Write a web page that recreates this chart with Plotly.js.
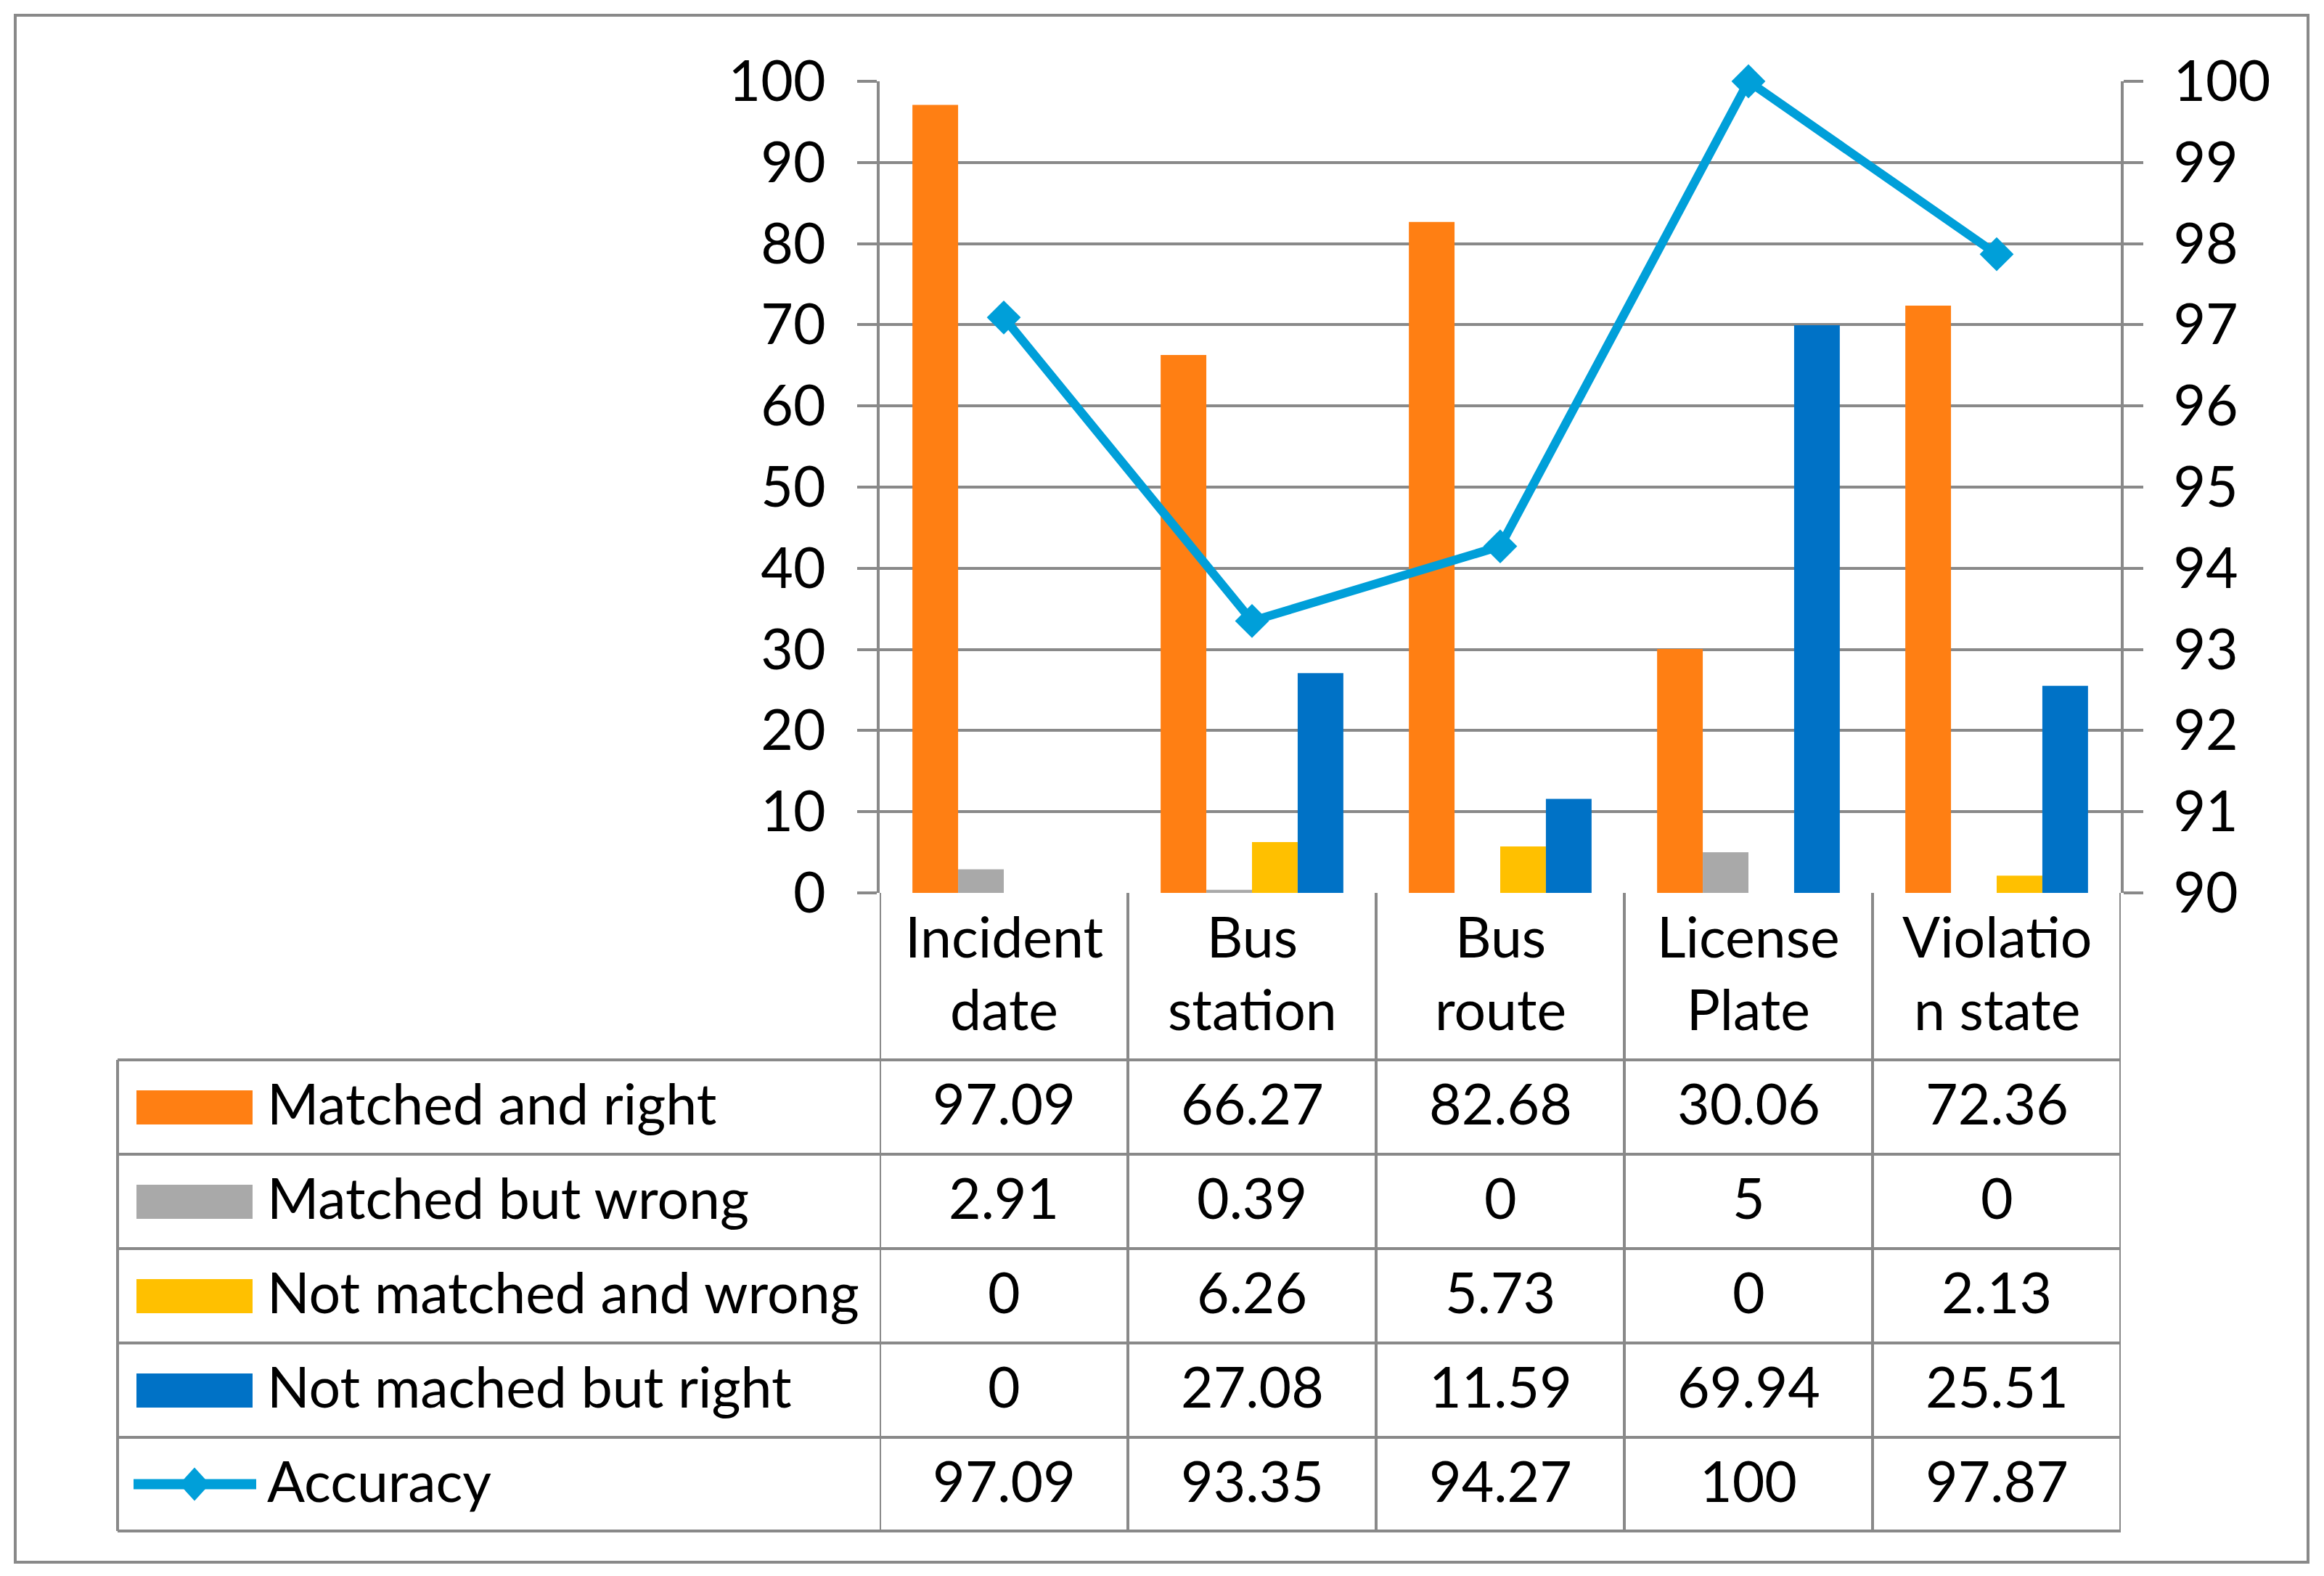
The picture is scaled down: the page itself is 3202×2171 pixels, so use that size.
<!DOCTYPE html>
<html>
<head>
<meta charset="utf-8">
<script src="https://cdn.plot.ly/plotly-3.0.1.min.js"></script>
<style>html,body{margin:0;padding:0;background:#fff;}#chart{width:3202px;height:2171px;}</style>
</head>
<body>
<div id="chart"></div>
<script>
// ---- data ----
const categories = ['Incident date', 'Bus station', 'Bus route', 'License Plate', 'Violation state'];
const categoryLabels = ['Incident<br>date', 'Bus<br>station', 'Bus<br>route', 'License<br>Plate', 'Violatio<br>n state'];
const matchedRight = [97.09, 66.27, 82.68, 30.06, 72.36];
const matchedWrong = [2.91, 0.39, 0, 5, 0];
const notMatchedWrong = [0, 6.26, 5.73, 0, 2.13];
const notMatchedRight = [0, 27.08, 11.59, 69.94, 25.51];
const accuracy = [97.09, 93.35, 94.27, 100, 97.87];
const seriesNames = ['Matched and right', 'Matched but wrong', 'Not matched and wrong', 'Not mached but right', 'Accuracy'];
const leftTicks = [0, 10, 20, 30, 40, 50, 60, 70, 80, 90, 100];
const rightTicks = [90, 91, 92, 93, 94, 95, 96, 97, 98, 99, 100];

// ---- styling ----
const W = 3202, H = 2171;
const FONT = 'Lato, "Open Sans", sans-serif';
const FS = 77;
const GRID = '#898989';
const colors = ['#ff7f13', '#a9a9a9', '#ffc000', '#0072c6', '#009fd9'];
const px = v => v / W;
const py = v => 1 - v / H;

const plotLeft = 1212, plotRight = 2922, plotTop = 112, plotBottom = 1230;
const tableLeft = 162;
const rowLines = [1460, 1590, 1720, 1850, 1980, 2109];

const barSeries = [matchedRight, matchedWrong, notMatchedWrong, notMatchedRight];
const traces = barSeries.map((vals, i) => ({
  type: 'bar', x: categories, y: vals, name: seriesNames[i],
  marker: {color: colors[i]}, xaxis: 'x', yaxis: 'y', hoverinfo: 'none'
}));
traces.push({
  type: 'scatter', mode: 'lines+markers', x: categories, y: accuracy, name: seriesNames[4],
  line: {color: colors[4], width: 12},
  marker: {symbol: 'diamond', size: 36, color: colors[4]},
  xaxis: 'x', yaxis: 'y2', cliponaxis: false, hoverinfo: 'none'
});

const shapes = [];
const lineStyle = {color: GRID, width: 4};
// outer border
shapes.push({type: 'rect', xref: 'paper', yref: 'paper', x0: px(21), x1: px(3180), y0: py(21), y1: py(2152), line: lineStyle});
// table horizontal lines
rowLines.forEach((r) => {
  shapes.push({type: 'line', xref: 'paper', yref: 'paper', x0: px(tableLeft), x1: px(plotRight), y0: py(r), y1: py(r), line: lineStyle});
});
// table left edge
shapes.push({type: 'line', xref: 'paper', yref: 'paper', x0: px(tableLeft), x1: px(tableLeft), y0: py(rowLines[0]), y1: py(rowLines[rowLines.length - 1]), line: lineStyle});
// column boundaries
for (let k = 0; k <= categories.length; k++) {
  shapes.push({type: 'line', xref: 'x', yref: 'paper', x0: k - 0.5, x1: k - 0.5, y0: py(plotBottom), y1: py(rowLines[rowLines.length - 1]), line: lineStyle});
}

const annotations = [];
const textFont = {family: FONT, size: FS, color: '#000'};
// category labels
categoryLabels.forEach((lab, i) => {
  annotations.push({xref: 'x', yref: 'paper', x: categories[i], y: py((plotBottom + rowLines[0]) / 2), yshift: 6,
    text: lab, showarrow: false, xanchor: 'center', yanchor: 'middle', font: textFont});
});
const allSeries = [matchedRight, matchedWrong, notMatchedWrong, notMatchedRight, accuracy];
allSeries.forEach((vals, r) => {
  const yc = (rowLines[r] + rowLines[r + 1]) / 2;
  // legend label
  annotations.push({xref: 'paper', yref: 'paper', x: px(366), y: py(yc), yshift: 6, text: seriesNames[r], showarrow: false,
    xanchor: 'left', yanchor: 'middle', font: textFont});
  // legend key
  if (r < 4) {
    shapes.push({type: 'rect', xref: 'paper', yref: 'paper', x0: px(188), x1: px(348), y0: py(yc - 23), y1: py(yc + 24),
      fillcolor: colors[r], line: {width: 0}});
  } else {
    shapes.push({type: 'line', xref: 'paper', yref: 'paper', x0: px(184), x1: px(353), y0: py(yc), y1: py(yc),
      line: {color: colors[4], width: 14}});
    const cx = 268, hw = 21, hh = 23;
    shapes.push({type: 'path', xref: 'paper', yref: 'paper',
      path: `M ${px(cx)} ${py(yc - hh)} L ${px(cx + hw)} ${py(yc)} L ${px(cx)} ${py(yc + hh)} L ${px(cx - hw)} ${py(yc)} Z`,
      fillcolor: colors[4], line: {width: 0}});
  }
  vals.forEach((v, i) => {
    annotations.push({xref: 'x', yref: 'paper', x: categories[i], y: py(yc), yshift: 6, text: String(v), showarrow: false,
      xanchor: 'center', yanchor: 'middle', font: textFont});
  });
});

const axisCommon = {
  showline: true, linecolor: GRID, linewidth: 4,
  ticks: 'outside', ticklen: 27, tickwidth: 4, tickcolor: GRID,
  tickfont: textFont, zeroline: false, fixedrange: true
};

const layout = {
  width: W, height: H,
  margin: {l: 0, r: 0, t: 0, b: 0, pad: 0},
  paper_bgcolor: '#fff', plot_bgcolor: '#fff',
  showlegend: false,
  barmode: 'group', bargap: 0.264, bargroupgap: 0,
  xaxis: {domain: [px(plotLeft), px(plotRight)], type: 'category', range: [-0.5, 4.5],
    showticklabels: false, ticks: '', showgrid: false, showline: false, zeroline: false, fixedrange: true},
  yaxis: Object.assign({}, axisCommon, {domain: [py(plotBottom), py(plotTop)], range: [0, 100],
    tickvals: leftTicks, ticktext: leftTicks.map(String), showgrid: true, gridcolor: GRID, gridwidth: 4,
    ticklabelstandoff: 28}),
  yaxis2: Object.assign({}, axisCommon, {overlaying: 'y', side: 'right', range: [90, 100],
    tickvals: rightTicks, ticktext: rightTicks.map(String), showgrid: false, ticklabelstandoff: 26}),
  shapes: shapes,
  annotations: annotations
};

Plotly.newPlot('chart', traces, layout, {staticPlot: true, displayModeBar: false});
</script>
</body>
</html>
